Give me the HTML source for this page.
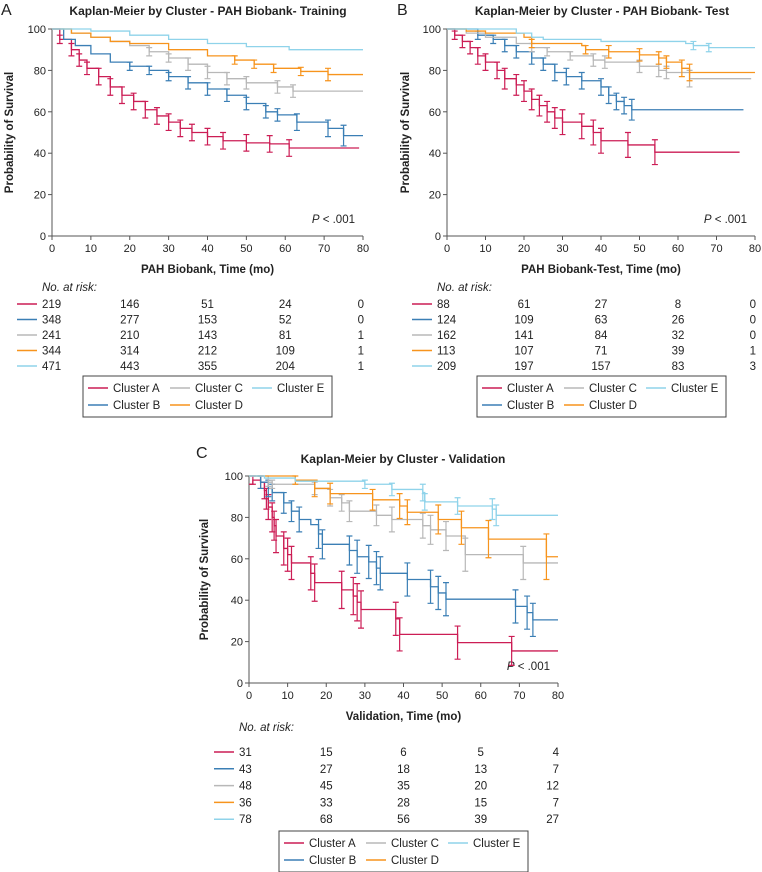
<!DOCTYPE html>
<html><head><meta charset="utf-8"><style>
body{margin:0;background:#fff;}
svg{display:block;font-family:"Liberation Sans",Arial,sans-serif;}
</style></head><body>
<svg id="fig" width="762" height="872" viewBox="0 0 762 872" xmlns="http://www.w3.org/2000/svg"></svg>
<script>
const COLORS={A:'#cc1d55',B:'#3b7fb5',C:'#b8b8b8',D:'#f7941d',E:'#8fd3ea'};
const xTicks=[0,10,20,30,40,50,60,70,80];
const yTicks=[0,20,40,60,80,100];
const clusterNames=['A','B','C','D','E'];

// Panel A (Training)
const aA_t=[0,2,5,7,9,12,15,18,21,24,27,30,33,36,40,44,50,56,61,79];
const aA_s=[100,95,90,85,81,77,72,68,65,61,58,55,52,50,48,46,45,44.5,42.5,42.5];
const aA_ci=[0,2,3,3,3,4,4,4,4,4,4,4,4,4,4,4,4,4,4,0];
const aB_t=[0,3,6,10,15,20,25,30,35,40,45,50,55,58,63,71,75,80];
const aB_s=[100,95,92,88,84,82,80,77,74,71,68,64,60,58.5,55,52,48.5,48.5];
const aB_ci=[0,0,0,0,0,2,2,2,3,3,3,3,3,3,4,4,5,0];
const aC_t=[0,5,10,15,20,25,30,35,40,45,50,58,62,80];
const aC_s=[100,98,96,94,92,89,86,83,79,76,74,72,70,70];
const aC_ci=[0,0,0,0,0,2,2,3,3,3,3,3,3,0];
const aD_t=[0,5,10,15,20,30,40,47,52,57,64,71,80];
const aD_s=[100,98,96,94,93,90,87,85,83,81,79.5,78,78];
const aD_ci=[0,0,0,0,0,0,0,2,2,2,2,3,0];
const aE_t=[0,10,20,30,40,50,61,80];
const aE_s=[100,99,97,95,93,91.5,90,90];
const aE_ci=[0,0,0,0,0,0,0,0];

// Panel B (Test)
const bA_t=[0,2,4,6,8,10,13,15,18,20,22,24,26,28,30,35,38,40,47,54,76];
const bA_s=[100,97,94,91,87,84,80,76,73,70,66,63,60,57,55,53,50,46,44,40.5,40.5];
const bA_ci=[0,2,3,3,4,4,4,5,5,5,5,5,5,5,6,6,6,6,6,6,0];
const bB_t=[0,8,12,15,18,22,25,28,31,35,40,42,44,46,48,77];
const bB_s=[100,97,95,92,89,86,83,79,77,75,72,68,65,63,61,61];
const bB_ci=[0,2,2,3,3,3,3,4,4,4,4,4,4,4,5,0];
const bC_t=[0,5,10,18,22,26,32,38,41,50,55,57,63,79];
const bC_s=[100,98,96,93,91,89,87,85,84,82,80,79,76,76];
const bC_ci=[0,0,0,0,2,2,2,3,3,3,3,3,4,0];
const bD_t=[0,5,10,20,22,35,36,42,50,55,57,61,63,80];
const bD_s=[100,99,98,96,93,92,90,89,87.5,86,84,81,79,79];
const bD_ci=[0,0,0,0,2,0,2,3,3,3,3,4,4,0];
const bE_t=[0,18,22,25,40,62,64,68,80];
const bE_s=[100,98,96,95,94,93,92,91,91];
const bE_ci=[0,0,0,0,0,0,2,2,0];

// Panel C (Validation)
const cA_t=[0,1,3,4,4.5,5,6,6.5,7,9,10,11,16,17,24,27,28,29,38,39,54,68,80];
const cA_s=[96,98,97,93,89,85,80,76,71,65,62,58,53,48.5,45,42,39,35.5,31,23.5,19.5,15.5,15.5];
const cA_ci=[0,2,3,4,5,6,7,7,8,8,8,8,8,9,9,9,9,9,8,8,8,7,0];
const cB_t=[0,3,5,6,9,11,13,16,18,19,26,28,31,33,34,41,47,49,51,69,72,73.5,80];
const cB_s=[100,97,94,92,87,83,79,76.5,72,67,64,61,58.5,55.5,53,50,46.5,43.5,40.5,37,34,30.5,30.5];
const cB_ci=[0,3,4,4,5,5,6,0,7,7,7,8,8,8,8,8,8,8,8,8,8,8,0];
const cC_t=[0,5,6,17,21,24,26,33,37,45,47,51,56,71,80];
const cC_s=[100,97,96,94,89.5,87,83,81,79,76,74,71,62,58,58];
const cC_ci=[0,2,2,3,4,4,5,5,6,6,7,7,8,8,0];
const cD_t=[0,12,17,21,32,39,41,49,55,62,77,80];
const cD_s=[100,98,94,91.5,88.5,85.5,82.5,79,75,69.5,61,61];
const cD_ci=[0,2,4,5,5,6,6,7,8,9,11,0];
const cE_t=[0,4,12,30,37,45,45.5,54,63,64,80];
const cE_s=[100,99,97.5,96,93.5,92,87.5,85.5,84,81,81];
const cE_ci=[0,0,0,2,3,4,4,4,5,5,0];

// Risk tables
const riskA=[[219,146,51,24,0],[348,277,153,52,0],[241,210,143,81,1],[344,314,212,109,1],[471,443,355,204,1]];
const riskB=[[88,61,27,8,0],[124,109,63,26,0],[162,141,84,32,0],[113,107,71,39,1],[209,197,157,83,3]];
const riskC=[[31,15,6,5,4],[43,27,18,13,7],[48,45,35,20,12],[36,33,28,15,7],[78,68,56,39,27]];

const NS='http://www.w3.org/2000/svg';
const svg=document.getElementById('fig');
function el(tag,attrs,parent,text){const e=document.createElementNS(NS,tag);for(const k in attrs)e.setAttribute(k,attrs[k]);if(text!==undefined)e.textContent=text;(parent||svg).appendChild(e);return e;}

function panel(cfg){
  const g=el('g',{});
  
  
  const X=t=>cfg.x0+(cfg.x1-cfg.x0)*t/80;
  const Y=v=>cfg.y0+(cfg.y100-cfg.y0)*v/100;
  const L=el('text',{x:cfg.letterX,y:cfg.letterY,'font-size':16,fill:'#222'},g,cfg.letter);
  
  const T=el('text',{x:cfg.titleX,y:cfg.titleY,'font-size':12,'font-weight':'bold','text-anchor':'middle',fill:'#222'},g,cfg.title);
  
  const ax=el('path',{d:`M${X(0)},${Y(100)}V${Y(0)}H${X(80)}`,stroke:'#555',fill:'none','stroke-width':1},g);
  
  xTicks.forEach(t=>{
    el('line',{x1:X(t),x2:X(t),y1:Y(0),y2:Y(0)+4,stroke:'#555'},g);
    const tl=el('text',{x:X(t),y:Y(0)+16,'font-size':11,'text-anchor':'middle',fill:'#222'},g,t);
    
  });
  yTicks.forEach(v=>{
    el('line',{x1:X(0)-4,x2:X(0),y1:Y(v),y2:Y(v),stroke:'#555'},g);
    const tl=el('text',{x:X(0)-6,y:Y(v)+4,'font-size':11,'text-anchor':'end',fill:'#222'},g,v);
    
  });
  const xt=el('text',{x:(X(0)+X(80))/2,y:cfg.xTitleY,'font-size':11.5,'font-weight':'bold','text-anchor':'middle',fill:'#222'},g,cfg.xTitle);
  
  const yc=(Y(0)+Y(100))/2;
  const yt=el('text',{x:cfg.yTitleX,y:yc,'font-size':11.5,'font-weight':'bold','text-anchor':'middle',fill:'#222',transform:`rotate(-90 ${cfg.yTitleX} ${yc})`},g,'Probability of Survival');
  
  const p=el('text',{x:X(80)-8,y:Y(0)-13,'font-size':11.5,'text-anchor':'end',fill:'#222'},g);
  
  el('tspan',{'font-style':'italic'},p,'P');el('tspan',{},p,' < .001');
  cfg.series.forEach((s,si)=>{
    const key=clusterNames[si];const col=COLORS[key];
    let d=`M${X(s.t[0])},${Y(s.s[0])}`;
    for(let i=1;i<s.t.length;i++){d+=`H${X(s.t[i])}V${Y(s.s[i])}`;}
    const sg=el('g',{},g);
    
    
    el('path',{d:d,stroke:col,fill:'none','stroke-width':1.3},sg);
    for(let i=0;i<s.t.length;i++){
      const c=s.ci[i];if(!c)continue;
      const x=X(s.t[i]),v=s.s[i];
      const eb=el('path',{d:`M${x},${Y(v-c)}V${Y(v+c)}M${x-3},${Y(v-c)}H${x+3}M${x-3},${Y(v+c)}H${x+3}`,stroke:col,fill:'none','stroke-width':1.2},sg);
      
    }
  });
  const rt=el('g',{},g);
  el('text',{x:X(0)-10,y:cfg.riskY,'font-size':11.5,'font-style':'italic',fill:'#222'},rt,'No. at risk:');
  cfg.risk.forEach((row,ri)=>{
    const y=cfg.riskY+cfg.rowOff+ri*cfg.rowGap;
    el('line',{x1:X(0)-35,x2:X(0)-15,y1:y-4,y2:y-4,stroke:COLORS[clusterNames[ri]],'stroke-width':1.5},rt);
    row.forEach((n,ci)=>{
      const t=ci*20;let x=X(t),anchor='middle';
      if(ci===0){x=X(0)-10;anchor='start';}
      if(ci===4){x=X(80)+1;anchor='end';}
      el('text',{x:x,y:y,'font-size':11.5,'text-anchor':anchor,fill:'#222'},rt,n);
    });
  });
  const lg=el('g',{},g);
  const lx=cfg.legX,ly=cfg.legY;
  el('rect',{x:lx,y:ly,width:249,height:41,fill:'#fff',stroke:'#444','stroke-width':1},lg);
  const pos=[[0,0],[0,1],[1,0],[1,1],[2,0]];
  clusterNames.forEach((k,i)=>{
    const ex=lx+5+pos[i][0]*82,ey=ly+13+pos[i][1]*17;
    const e=el('g',{},lg);
    el('line',{x1:ex,x2:ex+20,y1:ey-1,y2:ey-1,stroke:COLORS[k],'stroke-width':1.5},e);
    el('text',{x:ex+25,y:ey+3,'font-size':11.5,fill:'#222'},e,'Cluster '+k);
  });
}

panel({name:'panel-a-training',letter:'A',letterX:1,letterY:15,title:'Kaplan-Meier by Cluster - PAH Biobank- Training',titleX:208,titleY:15,
  x0:52,x1:363,y0:236,y100:29,xTitle:'PAH Biobank, Time (mo)',xTitleY:273,yTitleX:13,
  series:[{t:aA_t,s:aA_s,ci:aA_ci},{t:aB_t,s:aB_s,ci:aB_ci},{t:aC_t,s:aC_s,ci:aC_ci},{t:aD_t,s:aD_s,ci:aD_ci},{t:aE_t,s:aE_s,ci:aE_ci}],
  risk:riskA,riskY:291,rowOff:17,rowGap:15.5,legX:83,legY:376});
panel({name:'panel-b-test',letter:'B',letterX:397,letterY:15,title:'Kaplan-Meier by Cluster - PAH Biobank- Test',titleX:602,titleY:15,
  x0:447,x1:755,y0:236,y100:29,xTitle:'PAH Biobank-Test, Time (mo)',xTitleY:273,yTitleX:409,
  series:[{t:bA_t,s:bA_s,ci:bA_ci},{t:bB_t,s:bB_s,ci:bB_ci},{t:bC_t,s:bC_s,ci:bC_ci},{t:bD_t,s:bD_s,ci:bD_ci},{t:bE_t,s:bE_s,ci:bE_ci}],
  risk:riskB,riskY:291,rowOff:17,rowGap:15.5,legX:477,legY:376});
panel({name:'panel-c-validation',letter:'C',letterX:196,letterY:458,title:'Kaplan-Meier by Cluster - Validation',titleX:403,titleY:463,
  x0:249,x1:558,y0:683,y100:476,xTitle:'Validation, Time (mo)',xTitleY:720,yTitleX:208,
  series:[{t:cA_t,s:cA_s,ci:cA_ci},{t:cB_t,s:cB_s,ci:cB_ci},{t:cC_t,s:cC_s,ci:cC_ci},{t:cD_t,s:cD_s,ci:cD_ci},{t:cE_t,s:cE_s,ci:cE_ci}],
  risk:riskC,riskY:731,rowOff:25,rowGap:16.8,legX:279,legY:831});
</script>
</body></html>
